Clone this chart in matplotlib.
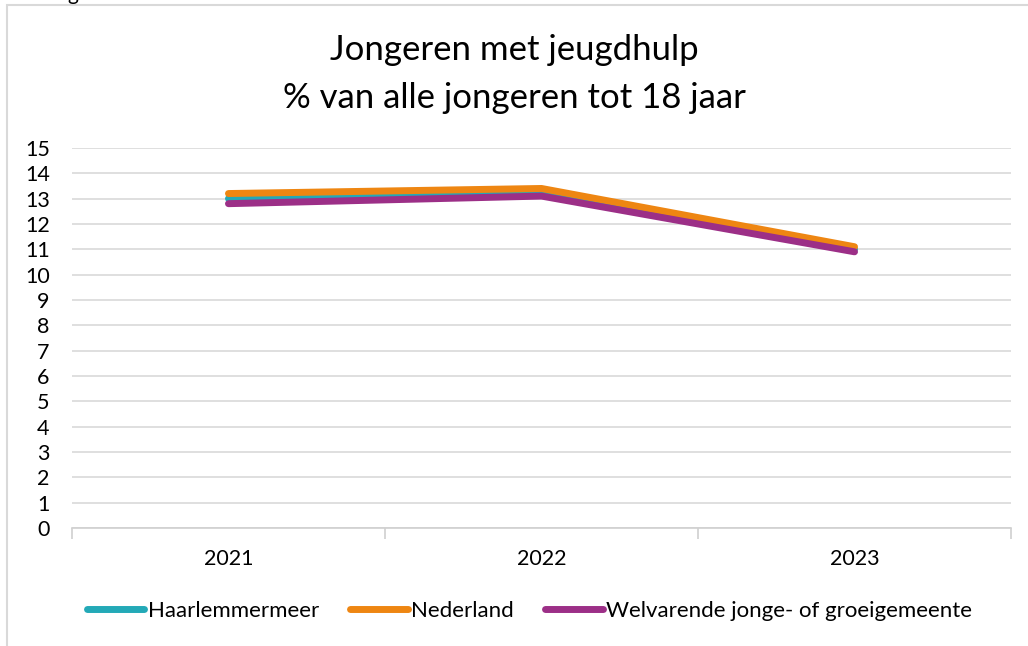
import matplotlib
matplotlib.use("Agg")
import matplotlib.pyplot as plt
from matplotlib.lines import Line2D
from matplotlib.patches import Rectangle

# data
years = ["2021", "2022", "2023"]
haarlemmermeer = [13.0, 13.2, 11.0]
nederland = [13.2, 13.4, 11.1]
welvarend = [12.8, 13.1, 10.9]

series_names = ["Haarlemmermeer", "Nederland", "Welvarende jonge- of groeigemeente"]
series_colors = ["#23A9B7", "#EE8612", "#9C2F87"]

plt.rcParams["font.family"] = ["Lato", "DejaVu Sans"]

fig = plt.figure(figsize=(10.28, 6.46), dpi=100)
ax = fig.add_axes([0.070, 0.1827, 0.9135, 0.5883])

x = list(range(len(years)))
for vals, name, col in zip([haarlemmermeer, nederland, welvarend], series_names, series_colors):
    ax.plot(x, vals, color=col, linewidth=5, solid_capstyle="round",
            solid_joinstyle="round", label=name)

ax.set_xlim(-0.5, len(years) - 0.5)
ax.set_ylim(0, 15)
ax.set_yticks(range(0, 16))
ax.set_xticks(x)
ax.set_xticklabels(years)
ax.set_xticks([i - 0.5 for i in range(len(years) + 1)], minor=True)
ax.tick_params(axis="x", which="major", length=0, pad=15, labelsize=15.5)
ax.tick_params(axis="x", which="minor", length=8, color="#d0d0d0", width=1.2)
ax.tick_params(axis="y", length=0, pad=16, labelsize=15.5)

ax.grid(axis="y", color="#d9d9d9", linewidth=1.2)
ax.set_axisbelow(True)
for side in ["top", "right", "left"]:
    ax.spines[side].set_visible(False)
ax.spines["bottom"].set_color("#d0d0d0")
ax.spines["bottom"].set_linewidth(1.2)

fig.text(0.5, 0.923, "Jongeren met jeugdhulp", ha="center", va="center", fontsize=25)
fig.text(0.5, 0.848, "% van alle jongeren tot 18 jaar", ha="center", va="center", fontsize=25)

# cut-off text from above the chart frame
fig.text(0.066, 1.0, "g", ha="left", va="baseline", fontsize=15)

# chart frame (only left and top edges visible)
fig.patches.append(Rectangle((7 / 1028, -0.1), 1.2, (641 / 646) + 0.1,
                             transform=fig.transFigure, fill=False,
                             edgecolor="#d9d9d9", linewidth=1.5))

handles = [Line2D([], [], color=c, linewidth=5, solid_capstyle="round") for c in series_colors]
fig.legend(handles, series_names, loc="center", bbox_to_anchor=(0.515, 0.054),
           ncol=3, frameon=False, fontsize=16, handlelength=2.6,
           handletextpad=0.15, columnspacing=1.4)

fig.savefig("out.png", dpi=100)
